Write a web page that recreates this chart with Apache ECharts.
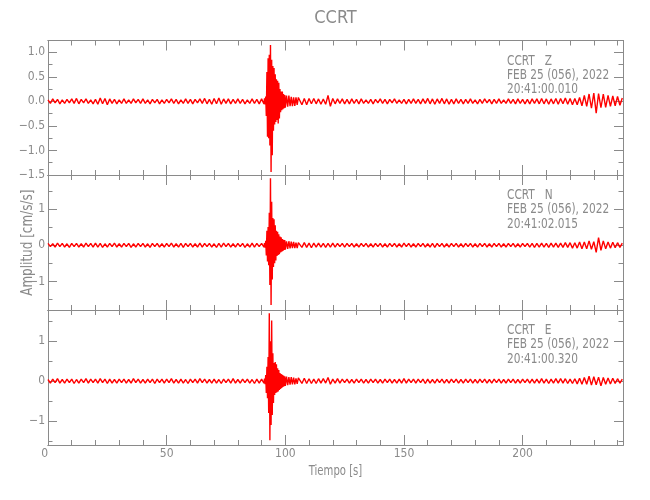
<!DOCTYPE html>
<html>
<head>
<meta charset="utf-8">
<title>CCRT</title>
<script src="https://cdn.jsdelivr.net/npm/echarts@6/dist/echarts.min.js"></script>
<style>
html, body { margin: 0; padding: 0; background: #fff; }
#chart { width: 650px; height: 500px; }
</style>
</head>
<body>
<div id="chart"></div>
<script>
// tiempos de muestreo [s] (mas densos en el arribo del sismo)
var tiempo = [
  0,1,2,3,4,5,6,7,8,9,10,11,12,13,14,15,16,17,18,19,20,21,22,23,24,25,26,27,28,29,
  30,31,32,33,34,35,36,37,38,39,40,41,42,43,44,45,46,47,48,49,50,51,52,53,54,55,56,57,58,59,
  60,61,62,63,64,65,66,67,68,69,70,71,72,73,74,75,76,77,78,79,80,81,82,83,84,85,86,87,88,89,90,
  91,91.25,91.5,91.75,92,92.25,92.5,92.75,93,93.25,93.5,93.75,94,94.25,94.5,94.75,
  95,95.25,95.5,95.75,96,96.25,96.5,96.75,97,97.25,97.5,97.75,98,98.25,98.5,98.75,99,99.25,99.5,99.75,
  100,100.5,101,101.5,102,102.5,103,103.5,104,104.5,105,105.5,
  106,107,108,109,110,111,112,113,114,115,116,117,118,119,120,121,122,123,124,125,
  126,127,128,129,130,131,132,133,134,135,136,137,138,139,140,141,142,143,144,145,
  146,147,148,149,150,151,152,153,154,155,156,157,158,159,160,161,162,163,164,165,
  166,167,168,169,170,171,172,173,174,175,176,177,178,179,180,181,182,183,184,185,
  186,187,188,189,190,191,192,193,194,195,196,197,198,199,200,201,202,203,204,205,
  206,207,208,209,210,211,212,213,214,215,216,217,218,219,220,221,222,223,224,225,
  226,227,228,229,230,231,232,233,234,235,236,237,238,239,240,241,242
]

// componente Z [cm/s/s]
var trazaZ = [
  0.03,-0.04,0.05,-0.03,0.04,-0.05,0.03,-0.04,0.04,-0.03,
  0.05,-0.04,0.06,-0.05,0.04,-0.03,0.05,-0.04,0.03,-0.05,
  0.04,-0.06,0.07,-0.05,0.06,-0.07,0.05,-0.04,0.04,-0.05,
  0.03,-0.04,0.05,-0.04,0.03,-0.04,0.05,-0.03,0.04,-0.04,
  0.05,-0.04,0.03,-0.05,0.04,-0.03,0.04,-0.05,0.03,-0.04,
  0.04,-0.03,0.05,-0.04,0.04,-0.05,0.03,-0.04,0.05,-0.04,
  0.04,-0.05,0.04,-0.03,0.05,-0.04,0.06,-0.05,0.04,-0.06,
  0.06,-0.05,0.07,-0.06,0.05,-0.04,0.05,-0.05,0.04,-0.04,
  0.05,-0.04,0.04,-0.05,0.03,-0.04,0.05,-0.04,0.04,-0.05,
  0.05,
  -0.05,0.06,-0.06,0.1,-0.3,0.6,-0.72,0.88,-0.75,0.95,-0.9,1.15,-1.44,0.85,-1.1,0.72,
  -0.6,0.68,-0.47,0.55,-0.42,0.45,-0.38,0.42,-0.45,0.38,-0.35,0.25,-0.22,0.2,-0.18,0.2,-0.16,0.15,-0.14,0.13,
  -0.13,0.12,-0.11,0.12,-0.1,0.09,-0.1,0.08,-0.09,0.08,-0.07,0.08,
  0.07,-0.07,0.06,-0.07,0.06,-0.05,0.06,-0.05,0.05,-0.06,
  0.05,-0.06,0.12,-0.1,0.06,-0.05,0.05,-0.04,0.05,-0.05,
  0.04,-0.05,0.05,-0.04,0.04,-0.05,0.05,-0.04,0.03,-0.04,
  0.04,-0.05,0.04,-0.03,0.05,-0.04,0.04,-0.05,0.04,-0.03,
  0.05,-0.04,0.03,-0.04,0.04,-0.05,0.04,-0.04,0.05,-0.04,
  0.04,-0.05,0.05,-0.04,0.06,-0.05,0.05,-0.06,0.05,-0.04,
  0.06,-0.05,0.05,-0.06,0.04,-0.05,0.05,-0.04,0.04,-0.05,
  0.04,-0.04,0.05,-0.04,0.03,-0.05,0.04,-0.04,0.05,-0.03,
  0.04,-0.05,0.04,-0.04,0.05,-0.04,0.03,-0.04,0.05,-0.04,
  0.04,-0.05,0.05,-0.04,0.04,-0.05,0.04,-0.05,0.05,-0.04,
  0.05,-0.05,0.06,-0.05,0.05,-0.06,0.05,-0.05,0.06,-0.06,
  0.06,-0.05,0.07,-0.06,0.06,-0.07,0.06,-0.07,0.08,-0.09,
  0.12,-0.1,0.15,-0.14,0.17,-0.24,0.16,-0.13,0.15,-0.12,
  0.12,-0.1,0.11,-0.09,0.1,-0.08,0.07
]

// componente N
var trazaN = [
  0.05,-0.04,0.04,-0.05,0.06,-0.04,0.05,-0.05,0.04,-0.06,
  0.05,-0.04,0.05,-0.05,0.04,-0.05,0.06,-0.04,0.05,-0.05,
  0.06,-0.05,0.05,-0.06,0.04,-0.05,0.05,-0.04,0.06,-0.05,
  0.04,-0.05,0.05,-0.04,0.05,-0.06,0.04,-0.05,0.05,-0.04,
  0.05,-0.05,0.04,-0.06,0.05,-0.04,0.05,-0.05,0.04,-0.05,
  0.05,-0.04,0.06,-0.05,0.04,-0.05,0.05,-0.06,0.05,-0.04,
  0.05,-0.05,0.04,-0.05,0.06,-0.05,0.05,-0.04,0.05,-0.05,
  0.04,-0.06,0.05,-0.05,0.06,-0.04,0.05,-0.05,0.04,-0.05,
  0.05,-0.04,0.05,-0.06,0.04,-0.05,0.06,-0.05,0.05,-0.04,
  0.05,
  -0.05,0.06,-0.07,0.12,-0.28,0.4,-0.45,0.5,-0.55,0.9,-1.1,1.85,-1.65,1.2,-0.95,0.75,
  -0.6,0.72,-0.5,0.55,-0.42,0.4,-0.3,0.37,-0.27,0.3,-0.25,0.24,-0.2,0.22,-0.18,0.17,-0.16,0.15,-0.13,0.14,
  -0.12,0.11,-0.1,0.11,-0.09,0.1,-0.08,0.09,-0.08,0.07,-0.08,0.07,
  0.07,-0.06,0.07,-0.06,0.06,-0.07,0.06,-0.05,0.06,-0.05,
  0.05,-0.06,0.05,-0.05,0.06,-0.05,0.05,-0.04,0.05,-0.05,
  0.05,-0.04,0.05,-0.05,0.04,-0.05,0.05,-0.04,0.05,-0.05,
  0.04,-0.05,0.05,-0.04,0.05,-0.05,0.04,-0.05,0.05,-0.04,
  0.05,-0.05,0.04,-0.05,0.06,-0.04,0.05,-0.05,0.04,-0.05,
  0.05,-0.04,0.05,-0.05,0.04,-0.05,0.05,-0.06,0.05,-0.04,
  0.05,-0.05,0.04,-0.05,0.05,-0.04,0.05,-0.05,0.04,-0.05,
  0.05,-0.04,0.05,-0.05,0.04,-0.05,0.05,-0.04,0.05,-0.05,
  0.04,-0.05,0.05,-0.04,0.05,-0.05,0.04,-0.05,0.05,-0.04,
  0.05,-0.05,0.04,-0.05,0.05,-0.04,0.05,-0.05,0.05,-0.06,
  0.05,-0.05,0.06,-0.05,0.05,-0.06,0.06,-0.05,0.06,-0.06,
  0.06,-0.06,0.07,-0.06,0.07,-0.08,0.07,-0.08,0.09,-0.1,
  0.09,-0.1,0.12,-0.11,0.1,-0.2,0.21,-0.14,0.12,-0.1,
  0.09,-0.08,0.08,-0.07,0.07,-0.06,0.06
]

// componente E
var trazaE = [
  0.04,-0.05,0.05,-0.04,0.06,-0.05,0.04,-0.05,0.05,-0.04,
  0.05,-0.06,0.04,-0.05,0.05,-0.04,0.06,-0.05,0.05,-0.04,
  0.05,-0.05,0.06,-0.04,0.05,-0.06,0.05,-0.05,0.04,-0.05,
  0.05,-0.04,0.05,-0.05,0.04,-0.05,0.06,-0.04,0.05,-0.05,
  0.04,-0.05,0.05,-0.04,0.05,-0.06,0.05,-0.04,0.05,-0.05,
  0.05,-0.04,0.06,-0.05,0.04,-0.05,0.05,-0.05,0.04,-0.06,
  0.05,-0.04,0.05,-0.05,0.06,-0.04,0.05,-0.05,0.04,-0.05,
  0.05,-0.05,0.04,-0.06,0.05,-0.04,0.05,-0.05,0.06,-0.05,
  0.04,-0.05,0.05,-0.04,0.05,-0.05,0.04,-0.06,0.05,-0.05,
  0.05,
  -0.05,0.06,-0.08,0.15,-0.3,0.36,-0.43,0.6,-0.8,1.7,-1.48,1.0,-1.1,1.52,-0.85,0.7,
  -0.55,0.45,-0.35,0.48,-0.3,0.42,-0.28,0.32,-0.26,0.28,-0.22,0.2,-0.2,0.18,-0.17,0.16,-0.15,0.14,-0.13,0.12,
  -0.12,0.11,-0.1,0.1,-0.09,0.1,-0.08,0.09,-0.08,0.07,-0.07,0.08,
  0.07,-0.06,0.07,-0.06,0.06,-0.06,0.05,-0.06,0.06,-0.05,
  0.06,-0.05,0.09,-0.08,0.05,-0.05,0.06,-0.05,0.05,-0.04,
  0.05,-0.05,0.04,-0.05,0.05,-0.04,0.05,-0.05,0.04,-0.05,
  0.05,-0.04,0.05,-0.05,0.04,-0.05,0.05,-0.04,0.05,-0.05,
  0.04,-0.05,0.05,-0.05,0.06,-0.05,0.05,-0.04,0.05,-0.05,
  0.05,-0.04,0.05,-0.06,0.05,-0.05,0.04,-0.05,0.05,-0.04,
  0.05,-0.05,0.04,-0.05,0.05,-0.04,0.05,-0.05,0.04,-0.05,
  0.05,-0.04,0.05,-0.05,0.04,-0.05,0.05,-0.04,0.05,-0.05,
  0.04,-0.05,0.05,-0.04,0.05,-0.05,0.04,-0.05,0.05,-0.04,
  0.05,-0.05,0.04,-0.05,0.05,-0.04,0.05,-0.05,0.05,-0.05,
  0.05,-0.05,0.06,-0.05,0.05,-0.06,0.05,-0.05,0.06,-0.05,
  0.06,-0.05,0.06,-0.06,0.05,-0.06,0.06,-0.07,0.07,-0.08,
  0.09,-0.08,0.12,-0.1,0.11,-0.09,0.1,-0.12,0.09,-0.08,
  0.08,-0.07,0.07,-0.06,0.06,-0.05,0.05
]

// marcas de los ejes
var xMayor = [0, 50, 100, 150, 200]
var xMenor = [10, 20, 30, 40, 60, 70, 80, 90, 110, 120, 130, 140, 160, 170, 180, 190, 210, 220, 230, 240]
var yMayorZ = [-1.5, -1, -0.5, 0, 0.5, 1]
var yMenorZ = [-1.25, -0.75, -0.25, 0.25, 0.75]
var yMayorNE = [-1, 0, 1]
var yMenorNE = [-1.5, -0.5, 0.5, 1.5]

var paneles = [
  { est: 'CCRT   Z', fecha: 'FEB 25 (056), 2022', hora: '20:41:00.010', datos: trazaZ, min: -1.5, max: 1.24, mayor: yMayorZ, menor: yMenorZ, dec: 1 },
  { est: 'CCRT   N', fecha: 'FEB 25 (056), 2022', hora: '20:41:02.015', datos: trazaN, min: -1.79, max: 1.94, mayor: yMayorNE, menor: yMenorNE, dec: 0 },
  { est: 'CCRT   E', fecha: 'FEB 25 (056), 2022', hora: '20:41:00.320', datos: trazaE, min: -1.6, max: 1.78, mayor: yMayorNE, menor: yMenorNE, dec: 0 }
]

var gris = '#8a8a8a'
var fuente = "'Liberation Sans Narrow', 'DejaVu Sans Condensed', sans-serif"
var xMax = 242.3
var tops = [40.5, 175, 310]
var altos = [134.5, 135, 135]

function ejeX(g, pos, valores, largo, etiquetas) {
  return {
    type: 'value', gridIndex: g, position: pos, min: 0, max: xMax,
    axisLine: { show: true, onZero: false, lineStyle: { color: gris, width: 1 } },
    axisTick: { show: true, inside: true, length: largo, customValues: valores, lineStyle: { color: gris } },
    axisLabel: {
      show: etiquetas, customValues: xMayor, margin: 3, color: gris,
      fontSize: 12, fontFamily: fuente, alignMinLabel: 'right'
    },
    splitLine: { show: false }
  }
}

function ejeY(g, pos, valores, largo, etiquetas) {
  var p = paneles[g]
  return {
    type: 'value', gridIndex: g, position: pos, min: p.min, max: p.max,
    axisLine: { show: true, onZero: false, lineStyle: { color: gris, width: 1 } },
    axisTick: { show: true, inside: true, length: largo, customValues: valores, lineStyle: { color: gris } },
    axisLabel: {
      show: etiquetas, customValues: p.mayor, margin: 3, color: gris,
      fontSize: 12, fontFamily: fuente,
      formatter: function (v) { return v.toFixed(p.dec).replace('-', '\u2212') }
    },
    splitLine: { show: false }
  }
}

// texto con compresion horizontal (la fuente original es mas angosta)
function texto(s, x, y, size, sx, rot) {
  return {
    type: 'text', x: x, y: y, rotation: rot || 0, scaleX: sx,
    style: { text: s, fill: gris, fontSize: size, fontFamily: fuente, align: 'left', verticalAlign: 'middle' }
  }
}

var grids = [], xAxes = [], yAxes = [], series = [], textos = []

paneles.forEach(function (p, i) {
  grids.push({ left: 48, right: 27, top: tops[i], height: altos[i] })
  // bottom/top major + minor
  xAxes.push(ejeX(i, 'bottom', xMayor, 10, i === 2))
  xAxes.push(ejeX(i, 'bottom', xMenor, 5, false))
  xAxes.push(ejeX(i, 'top', xMayor, 10, false))
  xAxes.push(ejeX(i, 'top', xMenor, 5, false))
  yAxes.push(ejeY(i, 'left', p.mayor, 9, true))
  yAxes.push(ejeY(i, 'left', p.menor, 4.5, false))
  yAxes.push(ejeY(i, 'right', p.mayor, 9, false))
  yAxes.push(ejeY(i, 'right', p.menor, 4.5, false))

  series.push({
    type: 'line',
    xAxisIndex: i * 4,
    yAxisIndex: i * 4,
    showSymbol: false,
    symbol: 'none',
    lineStyle: { color: '#ff0000', width: 1.4 },
    data: tiempo.map(function (t, k) { return [t, p.datos[k]] })
  })

  var y0 = tops[i] + 20.5
  ;[p.est, p.fecha, p.hora].forEach(function (s, j) {
    textos.push(texto(s, 507, y0 + j * 14.3, 13.5, 0.87))
  })
})

var titulo = texto('CCRT', 335.5, 18, 18, 1)
titulo.style.align = 'center'
var ejeTiempo = texto('Tiempo [s]', 335.5, 471, 14, 0.8)
ejeTiempo.style.align = 'center'
var ejeAmp = texto('Amplitud [cm/s/s]', 28, 242.7, 15, 0.89, Math.PI / 2)
ejeAmp.style.align = 'center'
textos.push(titulo, ejeTiempo, ejeAmp)

var chart = echarts.init(document.getElementById('chart'))
chart.setOption({
  backgroundColor: '#ffffff',
  animation: false,
  grid: grids,
  xAxis: xAxes,
  yAxis: yAxes,
  series: series,
  graphic: textos
})
</script>
</body>
</html>
